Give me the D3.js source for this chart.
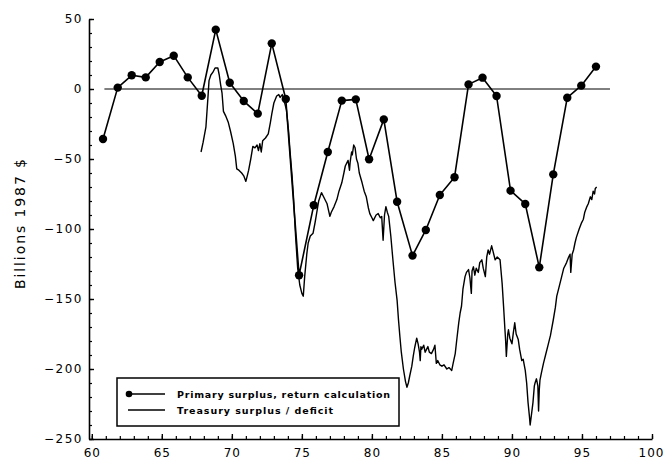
<!DOCTYPE html>
<html>
<head>
<meta charset="utf-8">
<script src="https://cdn.jsdelivr.net/npm/d3@7"></script>
<style>
  html, body { margin: 0; padding: 0; background: #fff; }
  svg { display: block; }
  .tick text { font-family: "DejaVu Sans", sans-serif; font-size: 12px; letter-spacing: 1.5px; fill: #000; }
  .xax .tick text { letter-spacing: 1px; }
</style>
</head>
<body>
<svg id="chart" width="665" height="461"></svg>
<script>
// ---------- data ----------
const primaryYears = [60.8, 61.85, 62.85, 63.85, 64.85, 65.85, 66.85, 67.85, 68.85, 69.85,
  70.85, 71.85, 72.85, 73.85, 74.8, 75.85, 76.85, 77.85, 78.85, 79.8,
  80.85, 81.8, 82.9, 83.85, 84.85, 85.9, 86.9, 87.9, 88.9, 89.9,
  90.95, 91.95, 92.95, 93.95, 94.95, 96.0];
const primarySurplus = [-35.7, 1, 9.8, 8.3, 19.3, 23.8, 8.3, -4.8, 42.4, 4.5,
  -8.6, -17.6, 32.6, -7.1, -133, -83, -45, -8.3, -7.4, -50.2,
  -21.7, -80.5, -119, -100.7, -75.7, -63, 3.3, 8.1, -5, -72.6,
  -82.1, -127.4, -61, -6.2, 2.4, 16];

const treasuryYears = [67.8,67.95,68.15,68.3,68.37,68.5,68.65,68.8,69.0,69.1,69.2,69.3,69.4,69.55,69.75,69.9,70.1,70.25,70.35,70.5,
  70.7,70.85,71.0,71.1,71.2,71.35,71.5,71.65,71.8,71.9,72.0,72.1,72.2,72.4,72.6,72.75,72.85,73.0,73.2,73.35,
  73.45,73.6,73.7,73.9,74.05,74.15,74.3,74.4,74.55,74.7,74.85,75.0,75.1,75.2,75.35,75.45,75.6,75.8,75.95,76.05,
  76.2,76.4,76.55,76.7,76.8,77.0,77.1,77.3,77.5,77.65,77.85,78.0,78.1,78.3,78.4,78.45,78.55,78.6,78.7,78.8,
  78.9,79.0,79.1,79.3,79.45,79.6,79.75,79.85,80.0,80.1,80.3,80.45,80.6,80.7,80.8,80.9,81.0,81.1,81.2,81.35,
  81.5,81.65,81.8,81.9,82.0,82.1,82.25,82.4,82.5,82.6,82.7,82.85,82.95,83.05,83.2,83.3,83.4,83.45,83.5,83.55,
  83.7,83.8,83.9,84.0,84.1,84.25,84.4,84.5,84.6,84.7,84.85,85.0,85.15,85.35,85.5,85.7,85.8,85.95,86.05,86.2,
  86.3,86.4,86.5,86.65,86.75,86.9,87.0,87.1,87.15,87.25,87.35,87.45,87.6,87.7,87.85,87.95,88.1,88.2,88.3,88.4,
  88.55,88.65,88.8,88.95,89.15,89.3,89.4,89.5,89.55,89.6,89.7,89.75,89.85,90.0,90.1,90.2,90.3,90.45,90.55,90.7,
  90.8,90.95,91.05,91.15,91.25,91.3,91.4,91.5,91.6,91.65,91.75,91.85,91.9,91.95,92.0,92.1,92.25,92.4,92.6,92.75,
  92.95,93.1,93.2,93.35,93.55,93.7,93.9,94.05,94.15,94.2,94.3,94.4,94.5,94.6,94.8,94.95,95.1,95.2,95.35,95.45,
  95.6,95.7,95.8,95.9,95.95,96.05];
const treasurySurplus = [-45,-38,-27,-5,6,10,12,15,15,10,3,-3,-16,-19,-24,-30,-39,-48,-57,-58,
  -60,-62,-66,-62,-58,-50,-41,-42,-40,-44,-39,-45,-37,-35,-32,-24,-18,-10,-5,-4,
  -6,-4,-7,-15,-30,-44,-62,-77,-105,-128,-140,-146,-148,-134,-118,-110,-105,-103,-95,-89,
  -80,-74,-77,-80,-82,-91,-88,-84,-79,-73,-67,-60,-55,-51,-58,-52,-45,-47,-40,-42,
  -50,-53,-60,-67,-73,-77,-85,-89,-92,-94,-90,-89,-92,-91,-108,-90,-84,-88,-91,-105,
  -122,-138,-151,-165,-177,-188,-200,-209,-213,-210,-205,-198,-191,-185,-178,-182,-188,-194,-184,-186,
  -183,-188,-186,-184,-188,-189,-186,-183,-196,-194,-197,-198,-197,-200,-199,-201,-196,-189,-180,-167,
  -160,-155,-143,-134,-131,-129,-135,-146,-130,-127,-133,-128,-131,-124,-122,-128,-134,-120,-115,-118,
  -112,-116,-122,-120,-122,-139,-155,-172,-180,-191,-175,-172,-178,-182,-174,-167,-175,-179,-186,-194,
  -193,-201,-210,-224,-234,-240,-232,-224,-212,-210,-207,-212,-230,-215,-208,-203,-196,-190,-182,-176,
  -165,-156,-148,-142,-134,-128,-124,-120,-118,-131,-118,-115,-110,-106,-100,-96,-93,-88,-84,-82,
  -77,-79,-73,-75,-71,-70];

const zeroLineYears = [60.9, 97.0];
const xMajorTicks = [60, 65, 70, 75, 80, 85, 90, 95, 100];
const yMajorTicks = [50, 0, -50, -100, -150, -200, -250];
const legendLabels = ["Primary surplus, return calculation", "Treasury surplus / deficit"];
const yAxisTitle = "Billions 1987 $";

// ---------- drawing ----------
const svg = d3.select("#chart");
const x = d3.scaleLinear().domain([59.8, 100]).range([89, 652]);
const y = d3.scaleLinear().domain([-250, 50]).range([439, 19]);

const fmt = d => d < 0 ? "\u2212" + Math.abs(d) : String(d);

// minor ticks
svg.append("g").attr("transform", "translate(0,439)")
  .call(d3.axisBottom(x).tickValues(d3.range(60, 101, 1)).tickSize(-3).tickSizeOuter(0).tickFormat(""))
  .call(g => g.select(".domain").remove())
  .selectAll("line").attr("stroke", "#000").attr("stroke-width", 1.2);
svg.append("g").attr("transform", "translate(89,0)")
  .call(d3.axisLeft(y).tickValues(d3.range(-250, 51, 10)).tickSize(-3).tickSizeOuter(0).tickFormat(""))
  .call(g => g.select(".domain").remove())
  .selectAll("line").attr("stroke", "#000").attr("stroke-width", 1.2);

// major axes
const xAxis = svg.append("g").attr("class", "xax").attr("transform", "translate(0,439)")
  .call(d3.axisBottom(x).tickValues(xMajorTicks).tickSize(-5).tickSizeOuter(0).tickPadding(9).tickFormat(fmt));
xAxis.select(".domain").attr("stroke-width", 1.6);
xAxis.selectAll("line").attr("stroke-width", 1.4);
xAxis.selectAll(".tick text").filter(d => d === 100).attr("text-anchor", "end").attr("dx", 12);

const yAxis = svg.append("g").attr("transform", "translate(89,0)")
  .call(d3.axisLeft(y).tickValues(yMajorTicks).tickSize(-5).tickSizeOuter(0).tickPadding(6).tickFormat(fmt));
yAxis.select(".domain").attr("stroke-width", 1.6);
yAxis.selectAll("line").attr("stroke-width", 1.4);

// zero line
svg.append("line")
  .attr("x1", x(zeroLineYears[0])).attr("x2", x(zeroLineYears[1]))
  .attr("y1", y(0)).attr("y2", y(0))
  .attr("stroke", "#000").attr("stroke-width", 1);

// treasury series
const tData = treasuryYears.map((t, i) => [t, treasurySurplus[i]]);
svg.append("path").datum(tData)
  .attr("fill", "none").attr("stroke", "#000").attr("stroke-width", 1.4).attr("stroke-linejoin", "round")
  .attr("d", d3.line().x(d => x(d[0])).y(d => y(d[1])));

// primary series
const pData = primaryYears.map((t, i) => [t, primarySurplus[i]]);
svg.append("path").datum(pData)
  .attr("fill", "none").attr("stroke", "#000").attr("stroke-width", 1.6).attr("stroke-linejoin", "round")
  .attr("d", d3.line().x(d => x(d[0])).y(d => y(d[1])));
svg.selectAll("circle.pt").data(pData).enter().append("circle")
  .attr("class", "pt")
  .attr("cx", d => x(d[0])).attr("cy", d => y(d[1])).attr("r", 4.2).attr("fill", "#000");

// y axis title
svg.append("text")
  .attr("transform", "translate(25,224) rotate(-90)")
  .attr("text-anchor", "middle")
  .attr("font-family", "DejaVu Sans, sans-serif").attr("font-size", 14)
  .attr("textLength", 130).attr("lengthAdjust", "spacing")
  .text(yAxisTitle);

// legend
const lg = svg.append("g");
lg.append("rect").attr("x", 117).attr("y", 378).attr("width", 282).attr("height", 48)
  .attr("fill", "#fff").attr("stroke", "#000").attr("stroke-width", 1.5);
const rows = [394, 410];
const widths = [213, 156];
legendLabels.forEach((lab, i) => {
  lg.append("line").attr("x1", 128).attr("x2", 165).attr("y1", rows[i]).attr("y2", rows[i])
    .attr("stroke", "#000").attr("stroke-width", i === 0 ? 1.6 : 1.4);
  if (i === 0) lg.append("circle").attr("cx", 129).attr("cy", rows[i]).attr("r", 3.3).attr("fill", "#000");
  lg.append("text").attr("x", 177).attr("y", rows[i] + 3.5)
    .attr("font-family", "DejaVu Sans, sans-serif").attr("font-weight", "bold").attr("font-size", 9.5)
    .attr("textLength", widths[i]).attr("lengthAdjust", "spacing")
    .text(lab);
});
</script>
</body>
</html>
